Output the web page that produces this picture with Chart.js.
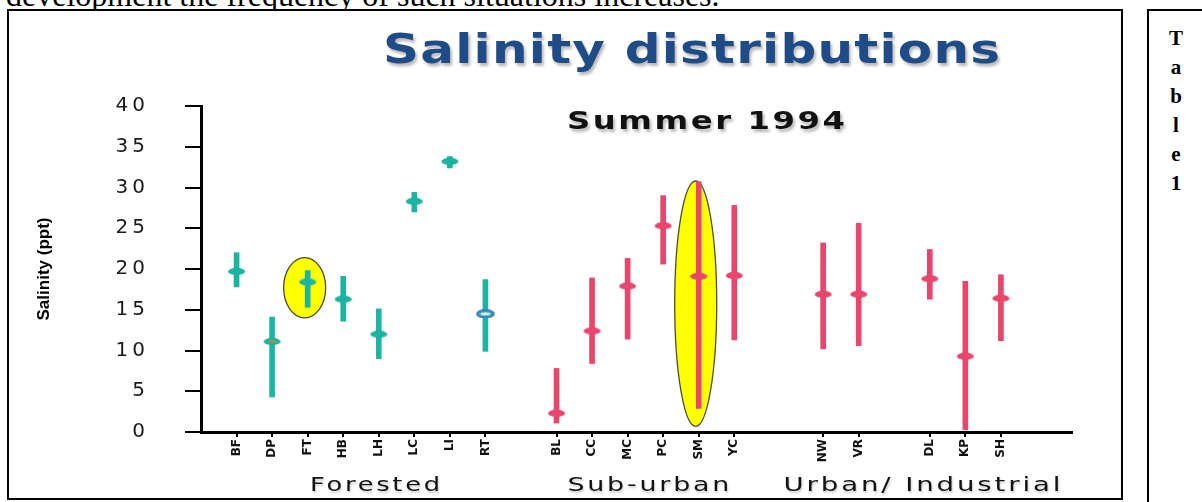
<!DOCTYPE html>
<html><head><meta charset="utf-8">
<script src="https://cdn.jsdelivr.net/npm/chart.js@4.4.1/dist/chart.umd.min.js"></script>
<style>
html,body{margin:0;padding:0;background:#fff;}
body{width:1202px;height:502px;position:relative;overflow:hidden;}
#topline{position:absolute;left:6px;top:-23px;font:32px 'Liberation Serif',serif;color:#000;white-space:nowrap;line-height:36px;}
#frame{position:absolute;left:7px;top:9px;width:1116px;height:491px;border:2px solid #000;box-sizing:border-box;background:#fff;}
#side{position:absolute;left:1147px;top:9px;width:80px;height:520px;border:2px solid #000;box-sizing:border-box;}
#sideText{position:absolute;left:1150px;top:24px;width:52px;text-align:center;font:bold 21px 'Liberation Serif',serif;line-height:29px;}
#c{position:absolute;left:0;top:0;}
</style></head>
<body>
<div id="topline">development the frequency of such situations increases.</div>
<div id="frame"></div>
<div id="side"></div>
<div id="sideText">T<br>a<br>b<br>l<br>e<br>1</div>
<canvas id="c" width="1202" height="502"></canvas>
<script>
// ---- data ----
const sites = ['BF','DP','FT','HB','LH','LC','LI','RT','BL','CC','MC','PC','SM','YC','NW','VR','DL','KP','SH'];
const groups = ['Forested','Sub-urban','Urban/ Industrial'];
const siteGroup = [0,0,0,0,0,0,0,0,1,1,1,1,1,1,2,2,2,2,2];
const meanSalinity = [19.7,11.1,18.4,16.3,12.0,28.3,33.2,14.5,2.3,12.4,17.9,25.3,19.1,19.2,16.9,16.9,18.8,9.3,16.4];
const minSalinity  = [17.8,4.3,15.3,13.6,9.0,27.0,32.4,9.9,1.1,8.4,11.4,20.6,2.9,11.3,10.2,10.6,16.3,0.3,11.2];
const maxSalinity  = [22.0,14.1,19.8,19.1,15.1,29.4,33.8,18.7,7.8,18.9,21.3,29.0,30.7,27.8,23.2,25.6,22.4,18.5,19.3];
const yTickValues = [0,5,10,15,20,25,30,35,40];
const highlightSites = ['FT','SM'];
const highlightLow  = [14.0, 0.7];
const highlightHigh = [21.4, 30.8];
const chartTitle = 'Salinity distributions';
const chartSubtitle = 'Summer 1994';
const yAxisTitle = 'Salinity (ppt)';

// ---- layout / style ----
const gapAfter = {RT:1, YC:1.5, VR:1};
const slots = [];
{ let s = 0; sites.forEach(n => { slots.push(s); s += 1 + (gapAfter[n] || 0); }); }
const groupLabelShift = [14, 3, 10];
const groupLabelWidth = [130, 162, 277];
const TEAL = '#1ab4a1', RED = '#e8466c';
const colorOf = i => siteGroup[i] === 0 ? TEAL : RED;

function marker(fill, opts) {
  const c = document.createElement('canvas');
  c.width = 19; c.height = 9;
  const g = c.getContext('2d');
  g.beginPath(); g.ellipse(9.5, 4.5, 8.5, 3.7, 0, 0, Math.PI * 2);
  g.fillStyle = fill; g.fill();
  if (opts === 'ring') {
    g.lineWidth = 1.8; g.strokeStyle = '#4f74c8'; g.stroke();
    g.beginPath(); g.ellipse(9.5, 4.5, 5, 1.5, 0, 0, Math.PI * 2);
    g.fillStyle = '#dfe9f7'; g.fill();
  } else if (opts === 'core') {
    g.beginPath(); g.ellipse(9.5, 4.5, 4, 1.2, 0, 0, Math.PI * 2);
    g.fillStyle = '#c9843f'; g.fill();
  }
  return c;
}
const markerStyle = {DP: 'core', RT: 'ring'};
const markers = sites.map((n, i) => marker(colorOf(i), markerStyle[n]));

class SpacedLinearScale extends Chart.LinearScale {
  drawLabels(area) {
    const ctx = this.ctx;
    ctx.save();
    ctx.letterSpacing = '4px';
    super.drawLabels(area);
    ctx.restore();
  }
}
SpacedLinearScale.id = 'spacedLinear';
SpacedLinearScale.defaults = Chart.LinearScale.defaults;
Chart.register(SpacedLinearScale);

// draw text stretched horizontally to a target width (with a touch of spacing)
function drawStretched(ctx, text, left, baseline, width, spacing) {
  ctx.letterSpacing = spacing + 'px';
  const w = ctx.measureText(text).width - spacing;
  const sx = width / w;
  ctx.save();
  ctx.translate(left, baseline);
  ctx.scale(sx, 1);
  ctx.textAlign = 'left';
  ctx.textBaseline = 'alphabetic';
  ctx.fillText(text, 0, 0);
  ctx.restore();
}

const decorPlugin = {
  id: 'decor',
  beforeDatasetsDraw(chart) {
    const ctx = chart.ctx, xs = chart.scales.x, ys = chart.scales.y;
    ctx.save();
    highlightSites.forEach((n, k) => {
      const i = sites.indexOf(n);
      const x = xs.getPixelForValue(slots[i]) - 3;
      const y1 = ys.getPixelForValue(highlightHigh[k]);
      const y2 = ys.getPixelForValue(highlightLow[k]);
      ctx.beginPath();
      ctx.ellipse(x, (y1 + y2) / 2, 21, (y2 - y1) / 2, 0, 0, Math.PI * 2);
      ctx.fillStyle = '#ffff00'; ctx.fill();
      ctx.lineWidth = 1.3; ctx.strokeStyle = '#4d4d2a'; ctx.stroke();
    });
    ctx.restore();
  },
  afterDraw(chart) {
    const ctx = chart.ctx, xs = chart.scales.x;
    ctx.save();
    ctx.shadowColor = 'rgba(0,0,0,0.28)'; ctx.shadowBlur = 3; ctx.shadowOffsetX = 2; ctx.shadowOffsetY = 3;
    ctx.fillStyle = '#1f4b86';
    ctx.font = 'bold 41px "DejaVu Sans"';
    drawStretched(ctx, chartTitle, 383, 63, 617, 1);
    ctx.fillStyle = '#111';
    ctx.font = 'bold 25px "DejaVu Sans"';
    drawStretched(ctx, chartSubtitle, 567, 129, 278, 2);
    ctx.shadowColor = 'rgba(0,0,0,0.2)'; ctx.shadowBlur = 2; ctx.shadowOffsetX = 1; ctx.shadowOffsetY = 2;
    ctx.font = '19px "DejaVu Sans"';
    ctx.fillStyle = '#111';
    groups.forEach((g, k) => {
      const px = sites.map((n, i) => siteGroup[i] === k ? xs.getPixelForValue(slots[i]) : null).filter(v => v !== null);
      const cx = (Math.min(...px) + Math.max(...px)) / 2 + groupLabelShift[k];
      drawStretched(ctx, g, cx - groupLabelWidth[k] / 2, 491, groupLabelWidth[k], 2);
    });
    ctx.restore();
  }
};

new Chart(document.getElementById('c'), {
  type: 'bar',
  data: {
    datasets: [
      {
        type: 'bar',
        label: 'range',
        data: sites.map((n, i) => ({x: slots[i], y: [minSalinity[i], maxSalinity[i]]})),
        backgroundColor: sites.map((n, i) => colorOf(i)),
        borderWidth: 0,
        barThickness: 5,
        order: 2
      },
      {
        type: 'scatter',
        label: 'mean',
        data: sites.map((n, i) => ({x: slots[i], y: meanSalinity[i]})),
        pointStyle: markers,
        pointRadius: 9,
        order: 1
      }
    ]
  },
  options: {
    responsive: false,
    devicePixelRatio: 1,
    animation: false,
    layout: {padding: {left: 0, top: 106, right: 130, bottom: 0}},
    plugins: {legend: {display: false}, tooltip: {enabled: false}, title: {display: false}},
    scales: {
      x: {
        type: 'linear',
        min: -1, max: 23.5,
        offset: false,
        grid: {drawOnChartArea: false, drawTicks: true, tickLength: 5, color: '#000', lineWidth: 2, offset: false},
        border: {display: true, color: '#000', width: 3},
        afterBuildTicks: s => { s.ticks = slots.map(v => ({value: v})); },
        afterFit: s => { s.height = 70; },
        ticks: {
          autoSkip: false, maxRotation: 90, minRotation: 90, padding: 2,
          font: {family: 'DejaVu Sans', size: 12, weight: 'bold'}, color: '#111',
          callback: (v, idx) => sites[idx]
        }
      },
      y: {
        type: 'spacedLinear',
        min: 0, max: 40,
        afterBuildTicks: s => { s.ticks = yTickValues.map(v => ({value: v})); },
        afterFit: s => { s.width = 201; },
        grid: {drawOnChartArea: false, drawTicks: true, tickLength: 16, color: '#000', lineWidth: 2},
        border: {display: true, color: '#000', width: 3},
        ticks: {padding: 36, font: {family: 'DejaVu Sans', size: 20}, color: '#1a1a1a'},
        title: {display: true, text: yAxisTitle, color: '#000', padding: {top: 34, bottom: 0},
                font: {family: 'Liberation Sans', size: 17, weight: 'bold'}}
      }
    }
  },
  plugins: [decorPlugin]
});
</script>
</body></html>
